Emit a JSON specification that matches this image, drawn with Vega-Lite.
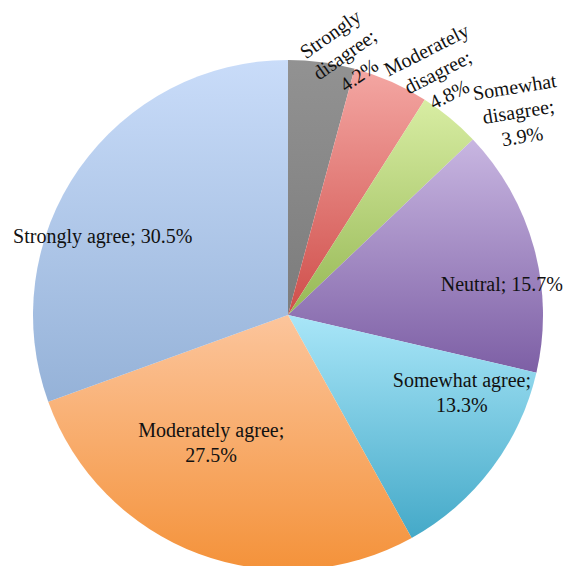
{
  "$schema": "https://vega.github.io/schema/vega-lite/v6.json",
  "width": 576,
  "height": 630,
  "autosize": "none",
  "padding": 0,
  "background": "white",
  "view": {"stroke": null},
  "config": {
    "text": {"font": "Liberation Serif", "fontSize": 20, "lineHeight": 25, "color": "#111111", "lineBreak": "\n", "align": "center", "baseline": "middle"}
  },
  "data": {
    "values": [
      {"idx": 1, "category": "Strongly disagree", "value": 4.2, "label": "Strongly\ndisagree;\n4.2%"},
      {"idx": 2, "category": "Moderately disagree", "value": 4.8, "label": "Moderately\ndisagree;\n4.8%"},
      {"idx": 3, "category": "Somewhat disagree", "value": 3.9, "label": "Somewhat\ndisagree;\n3.9%"},
      {"idx": 4, "category": "Neutral", "value": 15.7, "label": "Neutral; 15.7%"},
      {"idx": 5, "category": "Somewhat agree", "value": 13.3, "label": "Somewhat agree;\n13.3%"},
      {"idx": 6, "category": "Moderately agree", "value": 27.5, "label": "Moderately agree;\n27.5%"},
      {"idx": 7, "category": "Strongly agree", "value": 30.5, "label": "Strongly agree; 30.5%"}
    ]
  },
  "encoding": {
    "theta": {"field": "value", "type": "quantitative", "stack": true},
    "order": {"field": "idx", "type": "quantitative"}
  },
  "layer": [
    {
      "mark": {"type": "arc", "outerRadius": 255, "stroke": null},
      "encoding": {
        "fill": {
          "condition": [
            {"test": "datum.category === 'Strongly disagree'", "value": {"gradient": "linear", "x1": 0, "y1": 0, "x2": 0, "y2": 1, "stops": [{"offset": 0, "color": "#929292"}, {"offset": 1, "color": "#7c7c7c"}]}},
            {"test": "datum.category === 'Moderately disagree'", "value": {"gradient": "linear", "x1": 0, "y1": 0, "x2": 0, "y2": 1, "stops": [{"offset": 0, "color": "#f4a7a3"}, {"offset": 1, "color": "#cf4e4a"}]}},
            {"test": "datum.category === 'Somewhat disagree'", "value": {"gradient": "linear", "x1": 0, "y1": 0, "x2": 0, "y2": 1, "stops": [{"offset": 0, "color": "#d8eda3"}, {"offset": 1, "color": "#96b855"}]}},
            {"test": "datum.category === 'Neutral'", "value": {"gradient": "linear", "x1": 0, "y1": 0, "x2": 0, "y2": 1, "stops": [{"offset": 0, "color": "#c8b6e1"}, {"offset": 1, "color": "#7d5fa5"}]}},
            {"test": "datum.category === 'Somewhat agree'", "value": {"gradient": "linear", "x1": 0, "y1": 0, "x2": 0, "y2": 1, "stops": [{"offset": 0, "color": "#a9e6f8"}, {"offset": 1, "color": "#44a9c8"}]}},
            {"test": "datum.category === 'Moderately agree'", "value": {"gradient": "linear", "x1": 0, "y1": 0, "x2": 0, "y2": 1, "stops": [{"offset": 0, "color": "#fcc59c"}, {"offset": 1, "color": "#f4923a"}]}}
          ],
          "value": {"gradient": "linear", "x1": 0, "y1": 0, "x2": 0, "y2": 1, "stops": [{"offset": 0, "color": "#c9dcf9"}, {"offset": 1, "color": "#95b2d8"}]}
        }
      }
    },
    {
      "mark": {"type": "text", "radius": 266, "thetaOffset": 0.084, "angle": -35, "dy": -25},
      "encoding": {"text": {"condition": {"test": "datum.category === 'Strongly disagree'", "field": "label"}, "value": ""}}
    },
    {
      "mark": {"type": "text", "radius": 285, "thetaOffset": 0.14, "angle": -27, "dy": -25},
      "encoding": {"text": {"condition": {"test": "datum.category === 'Moderately disagree'", "field": "label"}, "value": ""}}
    },
    {
      "mark": {"type": "text", "radius": 307, "thetaOffset": 0.161, "angle": -9, "dy": -25},
      "encoding": {"text": {"condition": {"test": "datum.category === 'Somewhat disagree'", "field": "label"}, "value": ""}}
    },
    {
      "mark": {"type": "text", "radius": 216, "thetaOffset": 0.126},
      "encoding": {"text": {"condition": {"test": "datum.category === 'Neutral'", "field": "label"}, "value": ""}}
    },
    {
      "mark": {"type": "text", "radius": 191, "thetaOffset": -0.22, "dy": -12.5},
      "encoding": {"text": {"condition": {"test": "datum.category === 'Somewhat agree'", "field": "label"}, "value": ""}}
    },
    {
      "mark": {"type": "text", "radius": 150, "thetaOffset": 0.179, "dy": -12.5},
      "encoding": {"text": {"condition": {"test": "datum.category === 'Moderately agree'", "field": "label"}, "value": ""}}
    },
    {
      "mark": {"type": "text", "radius": 201, "thetaOffset": -0.213},
      "encoding": {"text": {"condition": {"test": "datum.category === 'Strongly agree'", "field": "label"}, "value": ""}}
    }
  ]
}
